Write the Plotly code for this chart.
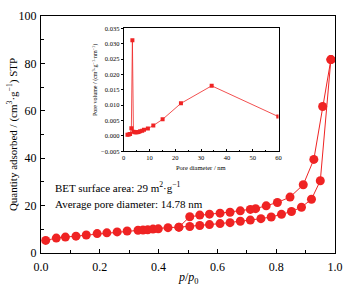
import plotly.graph_objects as go

# Main isotherm: adsorption branch
ads_x = [0.016, 0.052, 0.083, 0.119, 0.154, 0.191, 0.224, 0.259, 0.293, 0.330, 0.347, 0.363,
         0.381, 0.399, 0.432, 0.469, 0.506, 0.540, 0.573, 0.609, 0.643, 0.678, 0.712, 0.748,
         0.783, 0.818, 0.852, 0.886, 0.920, 0.950, 0.986]
ads_y = [5.3, 6.3, 6.7, 7.1, 7.6, 8.2, 8.5, 8.9, 9.3, 9.6, 9.7, 9.8,
         10.1, 10.2, 10.7, 10.9, 11.2, 11.6, 12.0, 12.4, 12.8, 13.4, 13.9, 14.5,
         15.2, 16.3, 17.5, 19.3, 22.7, 30.5, 81.6]
# Desorption branch
des_x = [0.986, 0.958, 0.928, 0.892, 0.847, 0.804, 0.766, 0.730, 0.712, 0.678, 0.643,
         0.609, 0.573, 0.540, 0.506, 0.469]
des_y = [81.6, 61.8, 39.5, 28.8, 23.6, 21.3, 19.9, 18.7, 18.4, 17.8, 17.2,
         16.8, 16.4, 16.0, 15.3, 10.9]

# Inset: pore size distribution
pore_d = [1.5, 2.0, 2.5, 3.0, 3.4, 3.8, 4.3, 4.8, 5.3, 5.8, 6.4, 7.2, 7.9, 9.4, 11.5,
          15.1, 22.2, 34.1, 59.9]
pore_v = [0.0004, 0.0005, 0.0006, 0.0025, 0.0311, 0.0014, 0.0012, 0.0012, 0.0012,
          0.0013, 0.0015, 0.0017, 0.0020, 0.0024, 0.0034, 0.0054, 0.0106, 0.0163, 0.0063]

RED = "#ef2323"
FONT = "Liberation Serif, Times New Roman, serif"

L, R, T, B = 41, 341, 9, 253
PW, PH = R - L, B - T


def px2paper(px, py):
    return (px - L) / PW, (B - py) / PH


fig = go.Figure()
fig.add_trace(go.Scatter(x=ads_x, y=ads_y, mode="lines+markers",
                         line=dict(color=RED, width=1),
                         marker=dict(color=RED, size=9, symbol="circle"),
                         showlegend=False))
fig.add_trace(go.Scatter(x=des_x, y=des_y, mode="lines+markers",
                         line=dict(color=RED, width=1),
                         marker=dict(color=RED, size=9, symbol="circle"),
                         showlegend=False))
fig.add_trace(go.Scatter(x=pore_d, y=pore_v, mode="lines+markers", xaxis="x2", yaxis="y2",
                         line=dict(color=RED, width=0.8),
                         marker=dict(color=RED, size=4, symbol="square"),
                         showlegend=False))

annots = []


def add_text(text, px, py, size, xanchor="center", angle=0):
    x, y = px2paper(px, py)
    annots.append(dict(text=text, x=x, y=y, xref="paper", yref="paper", showarrow=False,
                       xanchor=xanchor, yanchor="middle", textangle=angle,
                       font=dict(size=size, family=FONT, color="black")))


add_text("BET surface area: 29 m<sup>2</sup>·g<sup>−1</sup>", 53, 185, 11, "left")
add_text("Average pore diameter: 14.78 nm", 53, 203, 11, "left")
add_text("<i>p</i>/<i>p</i><sub>0</sub>", 191, 279, 12)
add_text("Quantity adsorbed / (cm<sup>3</sup>·g<sup>−1</sup>) STP", 12, 131, 11, angle=-90)
add_text("Pore diameter / nm", 204, 165, 6.5)
add_text("Pore volume / (cm<sup>3</sup>·g<sup>−1</sup>·nm<sup>−1</sup>)", 96, 75, 6, angle=-90)

fig.update_layout(
    width=352, height=291,
    margin=dict(l=L, r=352 - R, t=T, b=291 - B),
    paper_bgcolor="white", plot_bgcolor="white",
    font=dict(family=FONT, color="black"),
    xaxis=dict(range=[0, 1.0], dtick=0.2, tickformat=".1f",
               showline=True, linecolor="black", linewidth=1.2, mirror=True,
               ticks="inside", ticklen=4, tickcolor="black",
               minor=dict(dtick=0.1, ticks="inside", ticklen=2.5, tickcolor="black"),
               showgrid=False, zeroline=False, ticklabelstandoff=2,
               tickfont=dict(size=12, family=FONT)),
    yaxis=dict(range=[0, 100], dtick=20,
               showline=True, linecolor="black", linewidth=1.2, mirror=True,
               ticks="inside", ticklen=4, tickcolor="black",
               minor=dict(dtick=10, ticks="inside", ticklen=2.5, tickcolor="black"),
               showgrid=False, zeroline=False, ticklabelstandoff=1,
               tickfont=dict(size=12, family=FONT)),
    xaxis2=dict(domain=[0.281, 0.808], anchor="y2", range=[0, 60], dtick=10,
                showline=True, linecolor="black", linewidth=0.8, mirror=True,
                ticks="inside", ticklen=2, tickcolor="black",
                minor=dict(dtick=5, ticks="inside", ticklen=1.5, tickcolor="black"),
                showgrid=False, zeroline=False,
                tickfont=dict(size=6.5, family=FONT)),
    yaxis2=dict(domain=[0.429, 0.948], anchor="x2", range=[-0.005, 0.035], dtick=0.005,
                tickformat=".3f",
                showline=True, linecolor="black", linewidth=0.8, mirror=True,
                ticks="outside", ticklen=2, tickcolor="black",
                showgrid=False, zeroline=False,
                tickfont=dict(size=6.5, family=FONT)),
    annotations=annots,
)

fig.write_html("out.html", config={"displayModeBar": False},
               post_script="document.body.style.margin='0';document.body.style.padding='0';")
